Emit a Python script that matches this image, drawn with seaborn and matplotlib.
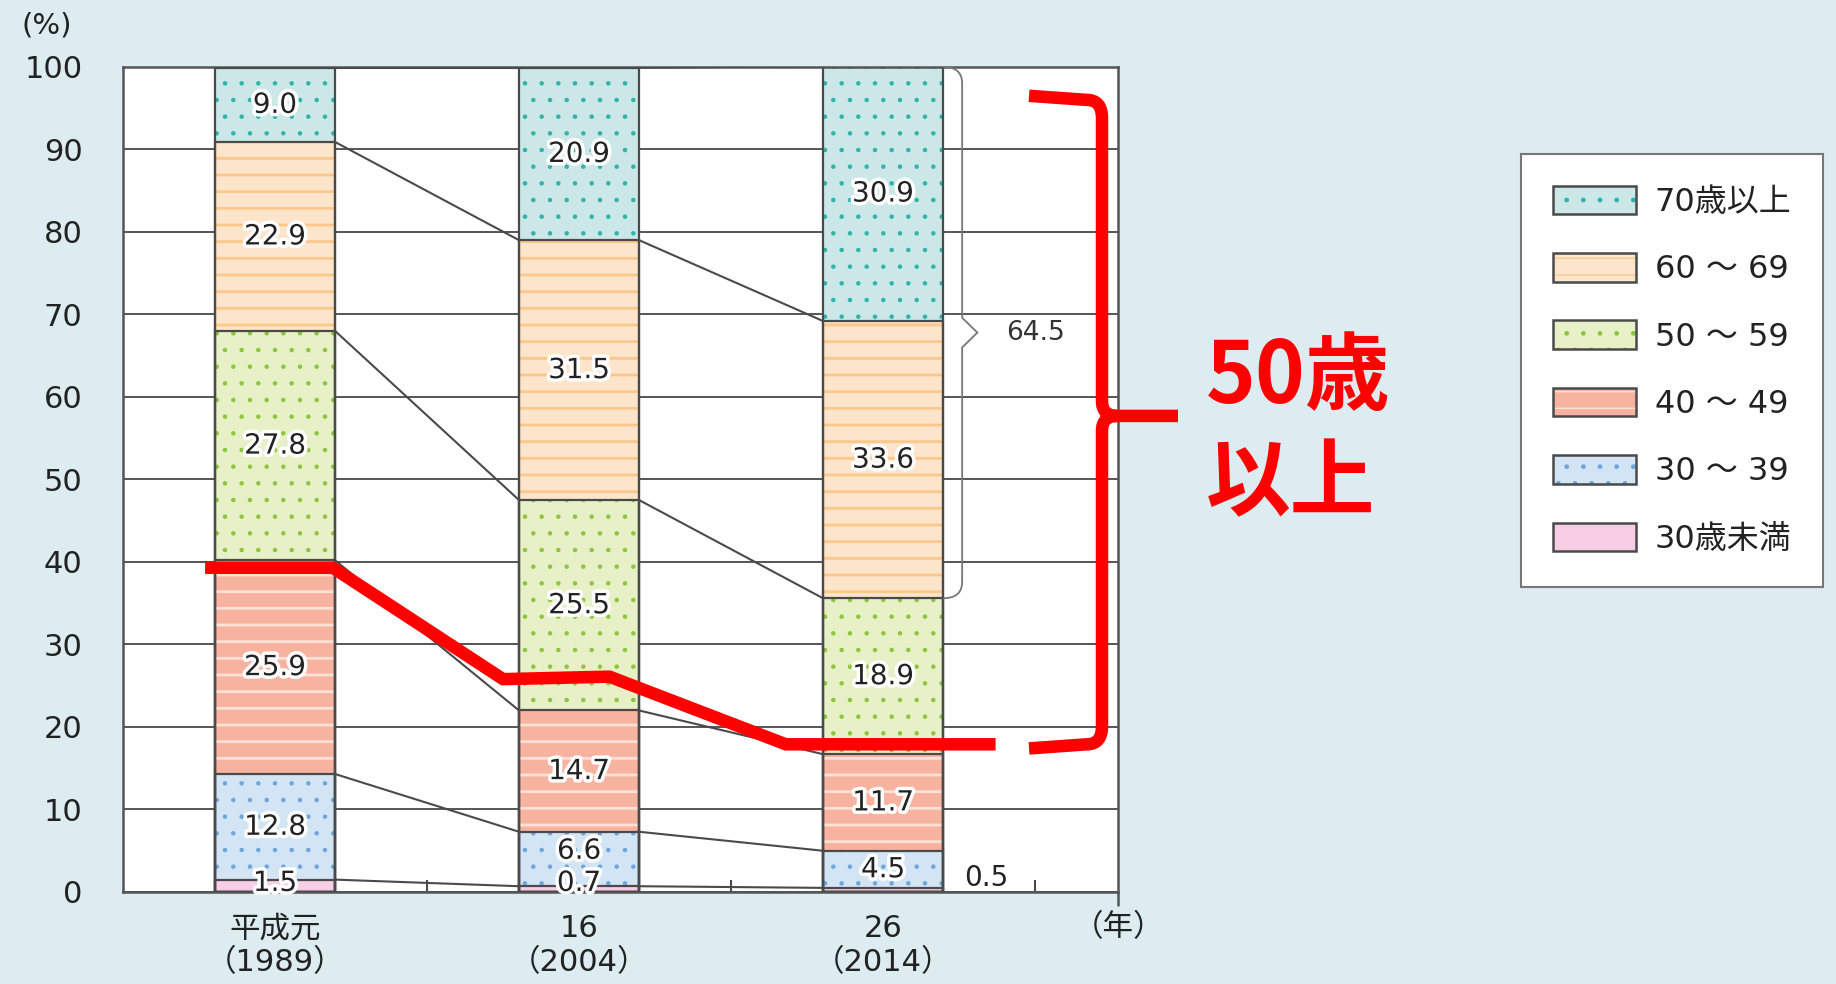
import numpy as np
import pandas as pd
import matplotlib
matplotlib.use("Agg")
import matplotlib.pyplot as plt
import matplotlib.patheffects as pe
from matplotlib.path import Path
from matplotlib.patches import PathPatch, Patch
from matplotlib.legend_handler import HandlerTuple
import seaborn as sns

# ---- data ----
years = ["平成元\n（1989）", "16\n（2004）", "26\n（2014）"]
age_groups = ["30歳未満", "30 ～ 39", "40 ～ 49", "50 ～ 59", "60 ～ 69", "70歳以上"]
under30 = [1.5, 0.7, 0.5]
age30s = [12.8, 6.6, 4.5]
age40s = [25.9, 14.7, 11.7]
age50s = [27.8, 25.5, 18.9]
age60s = [22.9, 31.5, 33.6]
over70 = [9.0, 20.9, 30.9]
over50_2014 = 64.5

# hand-drawn red annotation (data coords)
red_x = [-0.23, 0.19, 0.75, 1.10, 1.68, 2.37]
red_y = [39.3, 39.3, 25.8, 26.1, 17.9, 17.9]

# ---- styles ----
face_colors = ["#f9cde6", "#d3e5f5", "#f8b3a0", "#e7f0c6", "#fde5cb", "#cbe7e7"]
hatch_colors = ["#f3b5d6", "#6ea6dc", "#fde1d7", "#8cc63f", "#fbc78a", "#2fb3ac"]
hatches = [None, ".", "-", ".", "-", "."]
hatch_lw = [1.0, 0.8, 2.0, 0.8, 2.0, 0.8]

sns.set_theme(style="white")
plt.rcParams["font.family"] = ["DejaVu Sans", "Noto Sans CJK JP"]

values = np.array([under30, age30s, age40s, age50s, age60s, over70])
cum = values.cumsum(axis=0)
bar_w = 0.395
edge_col = "#4a4a4a"

fig = plt.figure(figsize=(18.36, 9.84), dpi=100)
fig.patch.set_facecolor("#ddecf0")
ax = fig.add_axes([0.067, 0.0935, 0.542, 0.8385])
ax.set_facecolor("white")

# stacked bars: draw cumulative totals from the top layer down
for i in range(len(age_groups) - 1, -1, -1):
    plt.rcParams["hatch.linewidth"] = hatch_lw[i]
    df = pd.DataFrame({"year": years, "total": cum[i]})
    sns.barplot(data=df, x="year", y="total", color=face_colors[i], saturation=1,
                hatch=hatches[i], edgecolor=hatch_colors[i], linewidth=0,
                width=bar_w, errorbar=None, ax=ax, zorder=2)
for i in range(len(age_groups)):
    df = pd.DataFrame({"year": years, "total": cum[i]})
    sns.barplot(data=df, x="year", y="total", color=edge_col, fill=False,
                linewidth=1.6, width=bar_w, errorbar=None, ax=ax, zorder=3)

# connecting lines between bars
for i in range(len(age_groups)):
    for j in range(len(years) - 1):
        ax.plot([j + bar_w / 2, j + 1 - bar_w / 2], [cum[i][j], cum[i][j + 1]],
                color=edge_col, lw=1.5, zorder=3)

# value labels
stroke = [pe.withStroke(linewidth=5, foreground="white")]
for j in range(len(years)):
    prev_y = None
    for i in range(len(age_groups)):
        v = values[i][j]
        y = cum[i][j] - v / 2
        x = j
        if i == 0:
            if j == 2:
                x, y = 2.34, 1.7
                ax.text(x, y, f"{v:.1f}", ha="center", va="center", fontsize=20,
                        color="#222222", zorder=5)
                continue
            y = max(y, 1.1)
        if prev_y is not None:
            y = max(y, prev_y + 3.9)
        prev_y = y
        ax.text(x, y, f"{v:.1f}", ha="center", va="center", fontsize=20,
                color="#222222", zorder=5, path_effects=stroke)

# gray brace with the 50+ total
b_x0, b_x1, b_xt = 2 + bar_w / 2, 2.26, 2.31
b_top, b_bot = 100.0, cum[3][2]
b_mid = (b_top + b_bot) / 2
brace = Path(
    [(b_x0, b_top), (b_x1, b_top), (b_x1, b_top - 2), (b_x1, b_mid + 1.8), (b_xt, b_mid),
     (b_x1, b_mid - 1.8), (b_x1, b_bot + 2), (b_x1, b_bot), (b_x0, b_bot)],
    [Path.MOVETO, Path.CURVE3, Path.CURVE3, Path.LINETO, Path.LINETO,
     Path.LINETO, Path.LINETO, Path.CURVE3, Path.CURVE3])
ax.add_patch(PathPatch(brace, fill=False, edgecolor="#777777", lw=1.3, zorder=4))
ax.text(2.50, b_mid, f"{over50_2014:.1f}", ha="center", va="center",
        fontsize=19, color="#333333", zorder=5)

# axes cosmetics
ax.set_xlim(-0.5, 2.773)
ax.set_ylim(0, 100)
ax.set_yticks(range(0, 101, 10))
ax.yaxis.grid(True, color="#555555", lw=1.4, zorder=1)
ax.set_axisbelow(True)
ax.set_xticks([0, 1, 2])
ax.set_xticklabels(years, fontsize=22, color="#222222", linespacing=1.2)
ax.set_xticks([0.5, 1.5, 2.5], minor=True)
ax.tick_params(axis="x", which="major", length=0, pad=16)
ax.tick_params(axis="x", which="minor", direction="in", length=9, width=1.5,
               color=edge_col, bottom=True)
ax.tick_params(axis="y", length=0, pad=29, labelsize=22, labelcolor="#222222")
ax.set_xlabel("")
ax.set_ylabel("")
for s in ax.spines.values():
    s.set_color("#555555")
    s.set_linewidth(1.8)
ax.plot([1, 1], [0, -0.016], transform=ax.transAxes, color="#555555",
        lw=1.8, clip_on=False)

fig.text(0.0256, 0.974, "(%)", ha="center", va="center", fontsize=21, color="#222222")
fig.text(0.609, 0.057, "（年）", ha="center", va="center", fontsize=22, color="#222222")

# red hand-drawn annotation
ax.plot(red_x, red_y, color="#ff0000", lw=9, solid_joinstyle="miter",
        solid_capstyle="butt", zorder=6, clip_on=False)
rx0, rxv, rxt = 2.48, 2.72, 2.97
ry_top, ry_bot, ry_mid = 96.0, 17.9, 57.7
red_brace = Path(
    [(rx0, ry_top + 0.5), (rxv - 0.05, ry_top), (rxv, ry_top), (rxv, ry_top - 2.2),
     (rxv, ry_mid + 1.8), (rxv, ry_mid), (rxv + 0.05, ry_mid), (rxt, ry_mid),
     (rxv + 0.05, ry_mid), (rxv, ry_mid), (rxv, ry_mid - 1.8),
     (rxv, ry_bot + 2.2), (rxv, ry_bot), (rxv - 0.05, ry_bot), (rx0, ry_bot - 0.5)],
    [Path.MOVETO, Path.LINETO, Path.CURVE3, Path.CURVE3,
     Path.LINETO, Path.CURVE3, Path.CURVE3, Path.LINETO,
     Path.MOVETO, Path.CURVE3, Path.CURVE3,
     Path.LINETO, Path.CURVE3, Path.CURVE3, Path.LINETO])
ax.add_patch(PathPatch(red_brace, fill=False, edgecolor="#ff0000", lw=9,
                       capstyle="butt", zorder=6, clip_on=False))
fig.text(0.657, 0.562, "50歳\n以上", ha="left", va="center", fontsize=61,
         fontweight="bold", color="#ff0000", linespacing=1.3,
         family=["Noto Sans CJK JP", "DejaVu Sans"])

# legend (top layer first)
handles = []
for i in range(len(age_groups) - 1, -1, -1):
    plt.rcParams["hatch.linewidth"] = hatch_lw[i]
    fill_p = Patch(facecolor=face_colors[i], hatch=hatches[i],
                   edgecolor=hatch_colors[i], linewidth=0)
    line_p = Patch(facecolor="none", edgecolor=edge_col, linewidth=1.8)
    handles.append((fill_p, line_p))
labels = age_groups[::-1]
leg = fig.legend(handles, labels, handler_map={tuple: HandlerTuple(ndivide=1, pad=0)},
                 loc="upper left", bbox_to_anchor=(0.8195, 0.86),
                 fontsize=23, frameon=True, fancybox=False, framealpha=1,
                 edgecolor="#777777", handlelength=2.6, handleheight=1.0,
                 labelspacing=1.1, borderpad=1.0, handletextpad=0.6)
leg.get_frame().set_linewidth(1.5)
for t in leg.get_texts():
    t.set_color("#222222")

fig.savefig("out.png", dpi=100, facecolor=fig.get_facecolor())
